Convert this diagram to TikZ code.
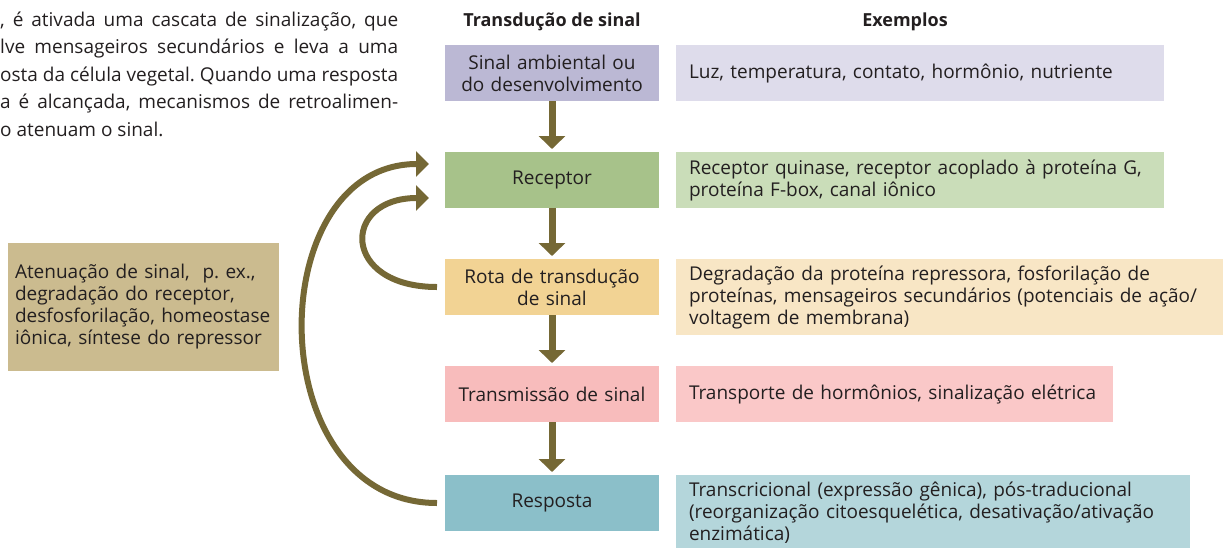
\documentclass[tikz,border=0pt]{standalone}
\usepackage{fontspec}
\setmainfont{Open Sans}
\usetikzlibrary{arrows.meta}
\definecolor{Ink}{HTML}{231F20}
\definecolor{Olive}{HTML}{756835}
\definecolor{Lavender}{HTML}{BBB8D4}
\definecolor{PaleLavender}{HTML}{DEDCEB}
\definecolor{Green}{HTML}{A7C28A}
\definecolor{PaleGreen}{HTML}{CADDB9}
\definecolor{Sand}{HTML}{F2D394}
\definecolor{PaleSand}{HTML}{F8E6C5}
\definecolor{Rose}{HTML}{F8BCBC}
\definecolor{PaleRose}{HTML}{FAC8C8}
\definecolor{Aqua}{HTML}{8BBFC9}
\definecolor{PaleAqua}{HTML}{B4D6DB}
\definecolor{Khaki}{HTML}{CBBB8F}
\frenchspacing
\tikzset{
  stage/.style={anchor=north west,minimum height=56pt,text width=200pt,inner xsep=7pt,inner ysep=0pt,outer sep=0pt,align=center,font=\fontsize{19}{22}\selectfont,text=Ink},
  example/.style={anchor=north west,minimum height=56pt,inner xsep=13pt,inner ysep=4pt,outer sep=0pt,align=left,font=\fontsize{19}{22}\selectfont,text=Ink},
  head/.style={font=\fontsize{18}{22}\selectfont\bfseries,text=Ink},
  flow/.style={-{Triangle[length=13pt,width=26pt]},draw=Olive,line width=7pt,shorten >=3pt},
  back/.style={-{Triangle[length=13pt,width=25pt]},draw=Olive,line width=6pt},
}
\begin{document}
\begin{tikzpicture}[x=1pt,y=-1pt]
  \clip (0,0) rectangle (1223,547);
  % text of the page
  \node[anchor=base west,inner sep=0pt,text width=398pt,align=justify,
        font=\fontsize{19}{27.5}\selectfont,text=Ink] (intro) at (0,26) {%
    , é ativada uma cascata de sinalização, que\linebreak
    lve mensageiros secundários e leva a uma\linebreak
    osta da célula vegetal. Quando uma resposta\linebreak
    a é alcançada, mecanismos de retroalimen-\linebreak
    o atenuam o sinal.};

  % headers
  \node[head] (hstage) at (552,22) {Transdução de sinal};
  \node[head] (hexample) at (905,22) {Exemplos};

  % stages
  \node[stage,fill=Lavender] (signal) at (445,45) {Sinal ambiental ou\\do desenvolvimento};
  \node[stage,fill=Green] (receptor) at (445,152) {Receptor};
  \node[stage,fill=Sand] (pathway) at (445,259) {Rota de transdução\\de sinal};
  \node[stage,fill=Rose] (transmission) at (445,366) {Transmissão de sinal};
  \node[stage,fill=Aqua] (response) at (445,475) {Resposta};

  % examples
  \node[example,fill=PaleLavender,text width=462pt] (exsignal) at (676,45) {Luz, temperatura, contato, hormônio, nutriente};
  \node[example,fill=PaleGreen,text width=462pt] (exreceptor) at (676,152) {Receptor quinase, receptor acoplado à proteína G,\\proteína F-box, canal iônico};
  \node[example,fill=PaleSand,text width=540pt,minimum height=76pt] (expathway) at (676,259) {Degradação da proteína repressora, fosforilação de\\proteínas, mensageiros secundários (potenciais de ação/\\voltagem de membrana)};
  \node[example,fill=PaleRose,text width=411pt] (extransmission) at (676,366) {Transporte de hormônios, sinalização elétrica};
  \node[example,fill=PaleAqua,text width=488pt,minimum height=76pt] (exresponse) at (676,475) {Transcricional (expressão gênica), pós-traducional\\(reorganização citoesquelética, desativação/ativação\\enzimática)};

  % attenuation
  \node[stage,fill=Khaki,text width=257pt,inner xsep=7pt,minimum height=128pt,align=left] (atten) at (8,243) {Atenuação de sinal,~ p. ex.,\\degradação do receptor,\\desfosforilação, homeostase\\iônica, síntese do repressor};

  % cascade
  \foreach \a/\b in {signal/receptor,receptor/pathway,pathway/transmission,transmission/response}
    \draw[flow] (\a) -- (\b);

  % feedback
  \draw[back] ([xshift=-8pt]response.west) .. controls +(-177,0) and +(-169,0) .. ([xshift=-16pt,yshift=16pt]receptor.west);
  \draw[back] ([xshift=-8pt]pathway.west) .. controls +(-96,0) and +(-88,0) .. ([xshift=-16pt,yshift=-18pt]receptor.west);
\end{tikzpicture}
\end{document}
